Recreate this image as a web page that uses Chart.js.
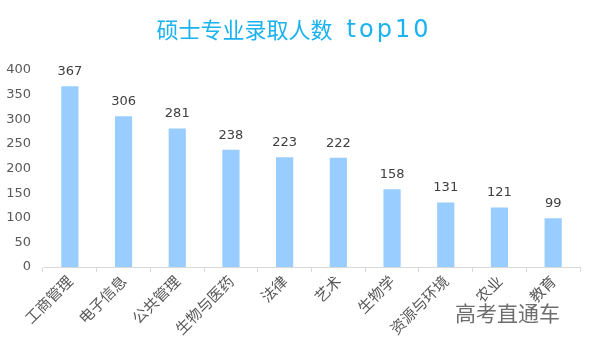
<!DOCTYPE html>
<html>
<head>
<meta charset="utf-8">
<script src="https://cdn.jsdelivr.net/npm/chart.js@4"></script>
<style>
html,body{margin:0;padding:0;background:#fff;}
#wrap{position:relative;width:592px;height:352px;}
#wm{position:absolute;left:455px;top:298px;font:21px "Noto Sans CJK SC",sans-serif;color:#6e6e6e;line-height:28px;}
</style>
</head>
<body>
<div id="wrap">
<canvas id="c" width="592" height="352"></canvas>
<div id="wm">高考直通车</div>
</div>
<script>
const categories = ["工商管理","电子信息","公共管理","生物与医药","法律","艺术","生物学","资源与环境","农业","教育"];
const values = [367,306,281,238,223,222,158,131,121,99];
const yTicks = [0,50,100,150,200,250,300,350,400];
const titleCn = "硕士专业录取人数";
const titleEn = "top10";

const FONT = '"Noto Sans CJK SC", "DejaVu Sans", sans-serif';

const valueLabels = {
  id:'valueLabels',
  afterDatasetsDraw(chart){
    const ctx = chart.ctx;
    const meta = chart.getDatasetMeta(0);
    ctx.save();
    ctx.font = '13px "DejaVu Sans", sans-serif';
    ctx.fillStyle = '#404040';
    ctx.textAlign = 'center';
    ctx.textBaseline = 'bottom';
    meta.data.forEach((bar,i)=>{
      ctx.fillText(String(values[i]), bar.x, bar.y - 8);
    });
    ctx.restore();
  }
};

const titlePlugin = {
  id:'customTitle',
  afterDraw(chart){
    const ctx = chart.ctx;
    ctx.save();
    ctx.fillStyle = '#1ab2ef';
    ctx.textBaseline = 'middle';
    ctx.textAlign = 'left';
    ctx.font = '22px "Noto Sans CJK SC", sans-serif';
    const w1 = ctx.measureText(titleCn).width;
    ctx.font = '24px "DejaVu Sans", sans-serif';
    ctx.letterSpacing = '3px';
    const w2 = ctx.measureText(titleEn).width;
    const gap = 14;
    const total = w1 + gap + w2;
    const x0 = 294 - total/2;
    ctx.letterSpacing = '0px';
    ctx.font = '22px "Noto Sans CJK SC", sans-serif';
    ctx.fillText(titleCn, x0, 30);
    ctx.font = '24px "DejaVu Sans", sans-serif';
    ctx.letterSpacing = '3px';
    ctx.fillText(titleEn, x0 + w1 + gap, 31);
    ctx.restore();
  }
};

new Chart(document.getElementById('c'),{
  type:'bar',
  data:{labels:categories,datasets:[{data:values,backgroundColor:'#99ccff',categoryPercentage:1,barPercentage:0.32}]},
  options:{
    responsive:false,animation:false,
    layout:{padding:{left:0,right:12,top:70,bottom:0}},
    plugins:{legend:{display:false},tooltip:{enabled:false},title:{display:false}},
    scales:{
      x:{
        afterFit(s){ s.height = 85; s.paddingLeft = 0; s.paddingRight = 0; },
        grid:{display:true,drawOnChartArea:false,tickLength:5,color:'#d9d9d9',offset:true},
        border:{color:'#d9d9d9'},
        ticks:{color:'#595959',font:{family:FONT,size:15},maxRotation:45,minRotation:45,padding:0,autoSkip:false}
      },
      y:{
        min:0,max:400,
        afterBuildTicks(axis){axis.ticks = yTicks.map(v=>({value:v}));},
        afterFit(s){ s.width = 43; s.paddingTop = 0; s.paddingBottom = 0; },
        grid:{display:false,drawTicks:false},border:{display:false},
        ticks:{color:'#595959',font:{family:'"DejaVu Sans", sans-serif',size:13},padding:12}
      }
    }
  },
  plugins:[valueLabels,titlePlugin]
});
</script>
</body>
</html>
